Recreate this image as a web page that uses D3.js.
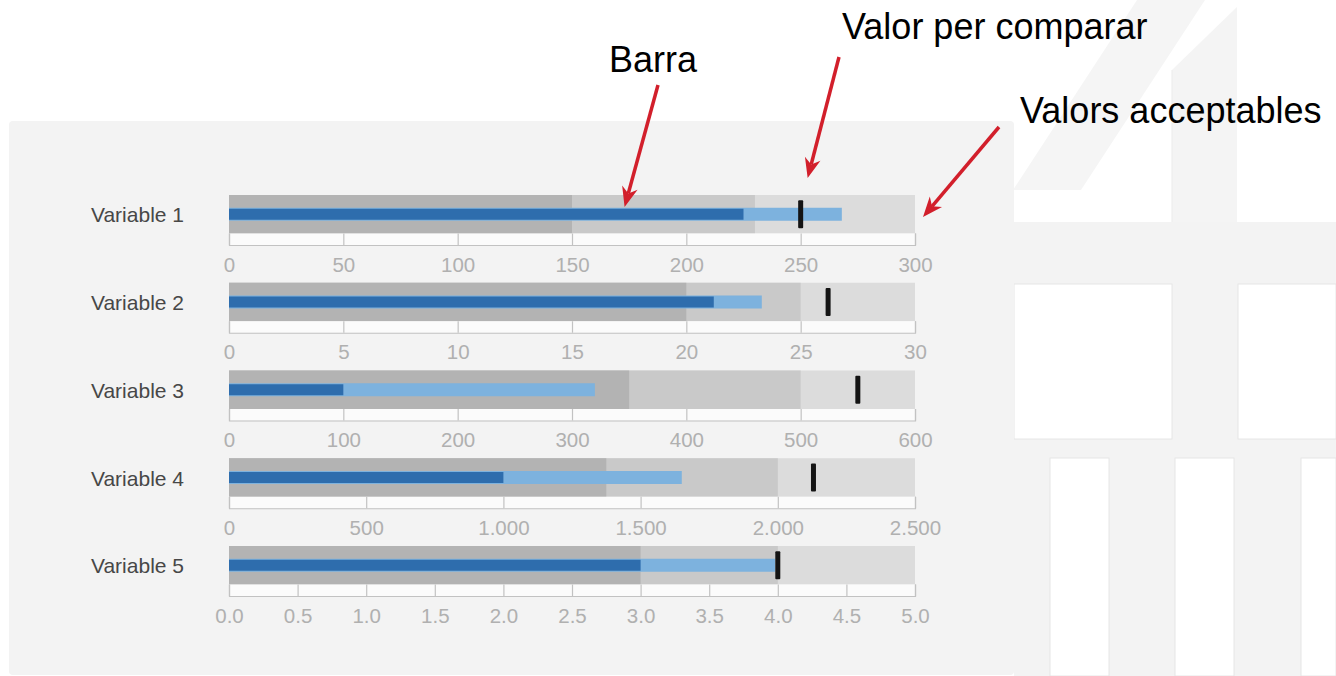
<!DOCTYPE html>
<html>
<head>
<meta charset="utf-8">
<script src="https://cdn.jsdelivr.net/npm/d3@7"></script>
<style>
  html, body { margin: 0; padding: 0; background: #ffffff; }
  svg { display: block; }
</style>
</head>
<body>
<svg id="chart" width="1336" height="676"></svg>
<script>
// ---------------- DATA ----------------
const categories = ["Variable 1", "Variable 2", "Variable 3", "Variable 4", "Variable 5"];
const maxima     = [300, 30, 600, 2500, 5];
const rangePoor  = [150, 20, 350, 1375, 3];
const rangeOk    = [230, 25, 500, 2000, 4];
const measures   = [225, 21.2, 100, 1000, 3];
const projected  = [268, 23.3, 320, 1650, 3.98];
const targets    = [250, 26.2, 550, 2130, 4];
const tickValues = [
  [0, 50, 100, 150, 200, 250, 300],
  [0, 5, 10, 15, 20, 25, 30],
  [0, 100, 200, 300, 400, 500, 600],
  [0, 500, 1000, 1500, 2000, 2500],
  [0, 0.5, 1, 1.5, 2, 2.5, 3, 3.5, 4, 4.5, 5]
];
const tickLabels = [
  ["0", "50", "100", "150", "200", "250", "300"],
  ["0", "5", "10", "15", "20", "25", "30"],
  ["0", "100", "200", "300", "400", "500", "600"],
  ["0", "500", "1.000", "1.500", "2.000", "2.500"],
  ["0.0", "0.5", "1.0", "1.5", "2.0", "2.5", "3.0", "3.5", "4.0", "4.5", "5.0"]
];
const annotations = ["Barra", "Valor per comparar", "Valors acceptables"];

// ---------------- LAYOUT ----------------
const svg = d3.select("#chart");
const FONT = "'Liberation Sans', Arial, Helvetica, sans-serif";
const X0 = 229, X1 = 915;
const ROW_TOP = 195, ROW_STEP = 87.75, BAND_H = 38.5, AXIS_OFF = 50;

// background decorations (right side, architectural shapes)
const bg = svg.append("g");
bg.append("polygon").attr("points", "1013,190 1137,0 1205,0 1081,190").attr("fill", "#f5f5f5");
bg.append("polygon").attr("points", "1172,70 1237,7 1237,222 1172,222").attr("fill", "#f4f4f4");
bg.append("line").attr("x1", 1172).attr("x2", 1172).attr("y1", 70).attr("y2", 222).attr("stroke", "#ebebeb");
bg.append("rect").attr("x", 1014).attr("y", 222).attr("width", 322).attr("height", 454).attr("fill", "#f3f3f3");
const whites = [[1014, 284, 158, 155], [1238, 284, 98, 155], [1050, 458, 59, 218], [1175, 458, 59, 218], [1301, 458, 35, 218]];
bg.selectAll("rect.w").data(whites).join("rect").attr("class", "w")
  .attr("x", d => d[0]).attr("y", d => d[1]).attr("width", d => d[2]).attr("height", d => d[3])
  .attr("fill", "#ffffff").attr("stroke", "#e6e6e6").attr("stroke-width", 1);

// chart panel
svg.append("rect").attr("x", 9).attr("y", 121).attr("width", 1005).attr("height", 554)
  .attr("rx", 4).attr("fill", "#f3f3f3");

const rows = categories.map((c, i) => ({
  name: c, i,
  max: maxima[i], poor: rangePoor[i], ok: rangeOk[i],
  measure: measures[i], projected: projected[i], target: targets[i],
  x: d3.scaleLinear().domain([0, maxima[i]]).range([X0, X1]),
  top: ROW_TOP + i * ROW_STEP
}));

const g = svg.selectAll("g.row").data(rows).join("g").attr("class", "row");

g.each(function (d) {
  const r = d3.select(this);
  const x = d.x;
  const cy = d.top + BAND_H / 2;

  // qualitative ranges
  const ranges = [[d.max, "#dcdcdc"], [d.ok, "#c9c9c9"], [d.poor, "#b3b3b3"]];
  r.selectAll("rect.range").data(ranges).join("rect").attr("class", "range")
    .attr("x", x(0)).attr("y", d.top)
    .attr("width", v => x(v[0]) - x(0)).attr("height", BAND_H)
    .attr("fill", v => v[1]);

  // projected (light blue)
  r.append("rect").attr("x", x(0)).attr("y", cy - 6.5)
    .attr("width", x(d.projected) - x(0)).attr("height", 13).attr("fill", "#7db2de");
  // measure (dark blue)
  r.append("rect").attr("x", x(0)).attr("y", cy - 5.5)
    .attr("width", x(d.measure) - x(0)).attr("height", 11).attr("fill", "#2e6dad");
  // target marker
  r.append("rect").attr("x", x(d.target) - 2.5).attr("y", cy - 14)
    .attr("width", 5).attr("height", 28).attr("rx", 1).attr("fill", "#141414");

  // axis strip
  const stripTop = d.top + BAND_H, axisY = d.top + AXIS_OFF;
  r.append("rect").attr("x", x(0)).attr("y", stripTop)
    .attr("width", x(d.max) - x(0)).attr("height", axisY - stripTop).attr("fill", "#fbfbfb");

  const axis = d3.axisBottom(x)
    .tickValues(tickValues[d.i])
    .tickFormat((v, k) => tickLabels[d.i][k])
    .tickSizeInner(-(axisY - stripTop))
    .tickSizeOuter(-(axisY - stripTop))
    .tickPadding(12);
  const ag = r.append("g").attr("transform", `translate(0,${axisY})`).call(axis);
  ag.select(".domain").attr("stroke", "#c2c2c2").attr("stroke-width", 1.2);
  ag.selectAll(".tick line").attr("stroke", "#c2c2c2").attr("stroke-width", 1.2);
  ag.selectAll(".tick text").attr("fill", "#b0b0b0")
    .style("font-family", FONT).style("font-size", "20.5px");

  // category label
  r.append("text").attr("x", 184).attr("y", cy + 8)
    .attr("text-anchor", "end").attr("fill", "#474747")
    .style("font-family", FONT).style("font-size", "21px")
    .text(d.name);
});

// ---------------- ANNOTATIONS ----------------
const r0 = rows[0];
const ann = [
  { text: annotations[0], tx: 609, ty: 72, sx: 658, sy: 85, ex: r0.x(173), ey: r0.top + 12 },
  { text: annotations[1], tx: 842, ty: 38.5, sx: 839, sy: 57, ex: r0.x(r0.target) + 7, ey: r0.top - 17 },
  { text: annotations[2], tx: 1020, ty: 123, sx: 999, sy: 127, ex: r0.x(r0.max) + 8, ey: r0.top + 22 }
];
const ag2 = svg.append("g");
ag2.selectAll("text").data(ann).join("text")
  .attr("x", d => d.tx).attr("y", d => d.ty).attr("fill", "#000")
  .style("font-family", FONT).style("font-size", "36px")
  .text(d => d.text);

ann.forEach(a => {
  const ang = Math.atan2(a.ey - a.sy, a.ex - a.sx);
  const L = 20, W = 8, N = 14;
  const ux = Math.cos(ang), uy = Math.sin(ang), px = -uy, py = ux;
  const bx = a.ex - ux * L, by = a.ey - uy * L;
  const nx = a.ex - ux * N, ny = a.ey - uy * N;
  ag2.append("line").attr("x1", a.sx).attr("y1", a.sy).attr("x2", nx).attr("y2", ny)
    .attr("stroke", "#d21f2b").attr("stroke-width", 3.5);
  ag2.append("polygon")
    .attr("points", [[a.ex, a.ey], [bx + px * W, by + py * W], [nx, ny], [bx - px * W, by - py * W]].map(p => p.join(",")).join(" "))
    .attr("fill", "#d21f2b");
});
</script>
</body>
</html>
